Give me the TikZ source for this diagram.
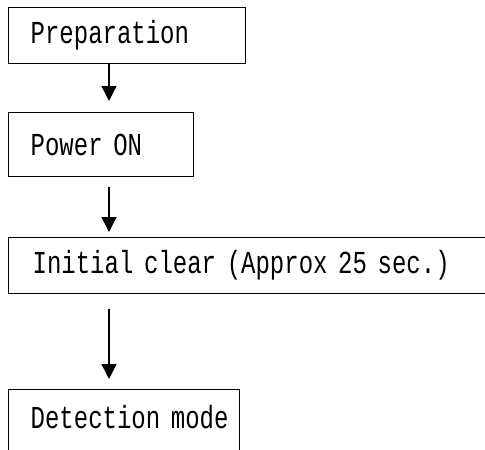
\documentclass[tikz,border=0pt]{standalone}
\usepackage{fontspec}
\usetikzlibrary{arrows.meta}
\newfontfamily\gothic[FakeStretch=0.75]{Liberation Mono}
\begin{document}
\begin{tikzpicture}[x=1pt,y=1pt,
  box/.style={draw, line width=1.3pt, anchor=north west, rectangle,
    inner xsep=0pt, inner ysep=0pt, align=left,
    font=\gothic\fontsize{32}{34}\selectfont},
  arr/.style={line width=1.3pt, -{Triangle[length=15pt,width=15pt]}}]
\clip (0,0) rectangle (485,-450);
\fill[white] (0,0) rectangle (485,-450);
\node[box, minimum width=237pt, minimum height=56pt, text width=237pt] (b1) at (8,-7) {\hspace*{22pt}Preparation};
\node[box, minimum width=185pt, minimum height=64pt, text width=185pt] (b2) at (8,-112) {\hspace*{22pt}Power ON};
\node[box, minimum width=520pt, minimum height=56pt, text width=520pt] (b3) at (8,-237) {\hspace*{24pt}Initial clear (Approx 25 sec.)};
\node[box, minimum width=231pt, minimum height=70pt, text width=231pt, text depth=16pt] (b4) at (8,-389) {\hspace*{22pt}Detection mode};
\draw[arr, shorten >=11pt] ([xshift=101pt]b1.south west) -- ([xshift=101pt]b2.north west);
\draw[arr, shorten <=10pt, shorten >=5pt] ([xshift=101pt]b2.south west) -- ([xshift=101pt]b3.north west);
\draw[arr, shorten <=15pt, shorten >=10pt] ([xshift=101pt]b3.south west) -- ([xshift=101pt]b4.north west);
\end{tikzpicture}
\end{document}
